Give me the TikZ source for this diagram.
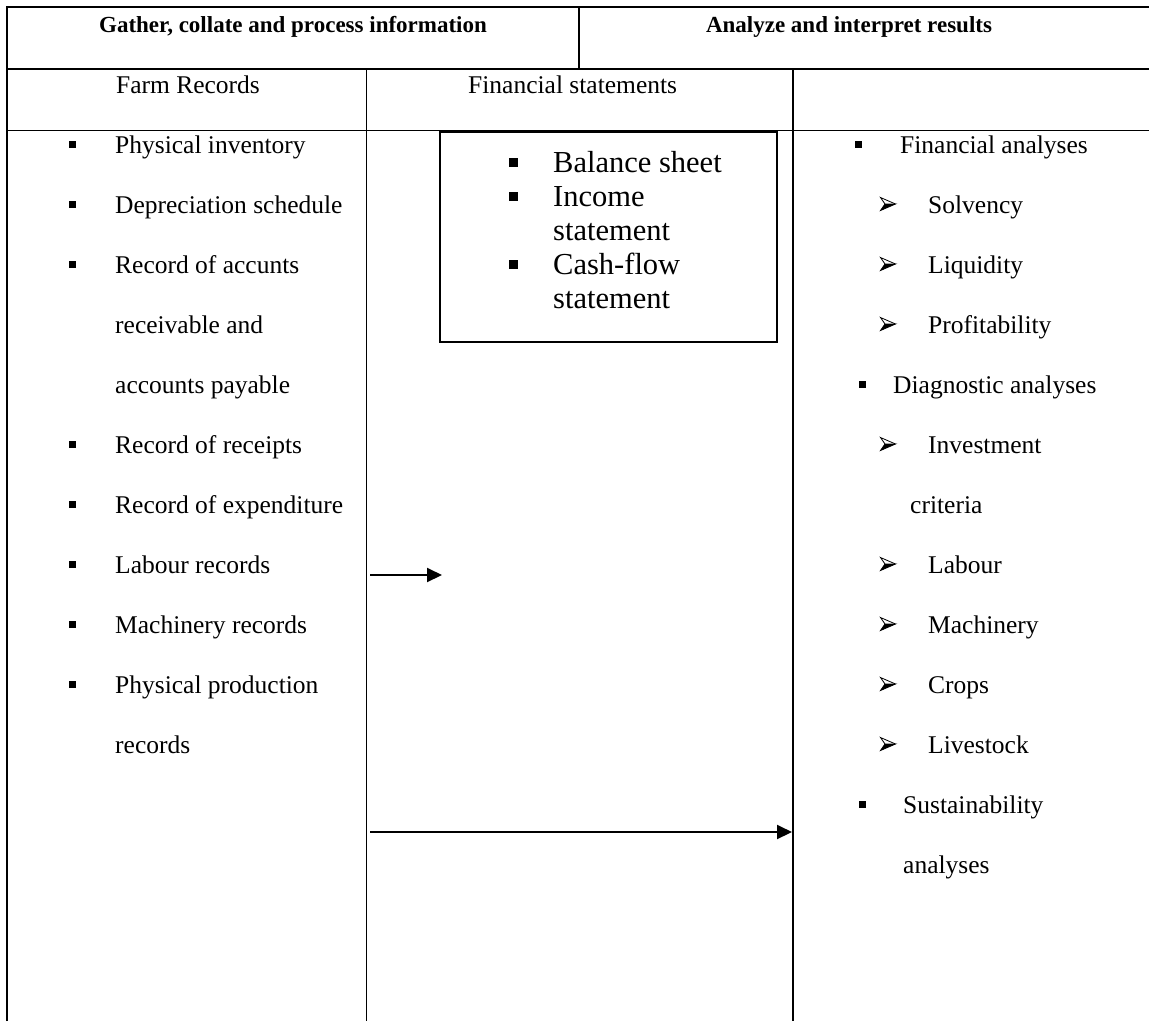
\documentclass[tikz,border=0pt]{standalone}
\usepackage{fontspec}
\setmainfont{Liberation Serif}
\usetikzlibrary{arrows.meta}
\begin{document}
\begin{tikzpicture}[x=1pt,y=-1pt,
  txt/.style={font=\fontsize{25.5}{30}\selectfont, inner sep=0pt, anchor=base west},
  hdr/.style={font=\bfseries\fontsize{23}{27}\selectfont, inner sep=0pt, anchor=base},
  big/.style={font=\fontsize{30.5}{34}\selectfont, inner sep=0pt, anchor=base west},
  sq/.style={fill=black, draw=none, minimum size=7pt, inner sep=0pt},
  bigsq/.style={fill=black, draw=none, minimum size=9pt, inner sep=0pt},
  thick rule/.style={line width=2.2pt},
  thin rule/.style={line width=1pt},
  flow/.style={line width=2pt, -{Triangle[length=15pt,width=14pt]}},
  arrowbullet/.pic={
    \filldraw[line width=0.8pt, line join=miter] (7.5,0) -- (-3,0) -- (-7.5,6.5) -- cycle;
    \draw[line width=0.8pt, line join=miter] (7.5,0) -- (-7.5,-6.5) -- (-3,0);
  }]
\useasboundingbox (0,0) rectangle (1149,1021);

% table rules
\draw[thick rule] (7,1021) -- (7,7) -- (1149,7);
\draw[thick rule] (7,69) -- (1149,69);
\draw[thin rule] (7,130) -- (1149,130);
\draw[line width=1.4pt] (579,7) -- (579,69);
\draw[thin rule] (366,69) -- (366,1021);
\draw[thick rule] (793,69) -- (793,1021);

% header row
\node[hdr] (h1) at (293,32) {Gather, collate and process information};
\node[hdr] (h2) at (849,32) {Analyze and interpret results};

% column titles
\node[txt, anchor=base] (c1) at (188,93) {Farm Records};
\node[txt] (c2) at (468,93) {Financial statements};

% farm records
\node[sq] (lb1) at (72,144) {};
\node[txt] (l1) at (115,153) {Physical inventory};
\node[sq] (lb2) at (72,204) {};
\node[txt] (l2) at (115,213) {Depreciation schedule};
\node[sq] (lb3) at (72,264) {};
\node[txt] (l3) at (115,273) {Record of accunts};
\node[txt] (l4) at (115,333) {receivable and};
\node[txt] (l5) at (115,393) {accounts payable};
\node[sq] (lb6) at (72,444) {};
\node[txt] (l6) at (115,453) {Record of receipts};
\node[sq] (lb7) at (72,504) {};
\node[txt] (l7) at (115,513) {Record of expenditure};
\node[sq] (lb8) at (72,564) {};
\node[txt] (l8) at (115,573) {Labour records};
\node[sq] (lb9) at (72,624) {};
\node[txt] (l9) at (115,633) {Machinery records};
\node[sq] (lb10) at (72,684) {};
\node[txt] (l10) at (115,693) {Physical production};
\node[txt] (l11) at (115,753) {records};

% financial statements box
\node[draw, line width=1.8pt, minimum width=337pt, minimum height=210pt, inner sep=0pt] (fs) at (608.5,237) {};
\node[bigsq] (bb1) at (513,162) {};
\node[big] (b1) at (553,172) {Balance sheet};
\node[bigsq] (bb2) at (513,196) {};
\node[big] (b2) at (553,206) {Income};
\node[big] (b3) at (553,240) {statement};
\node[bigsq] (bb4) at (513,264) {};
\node[big] (b4) at (553,274) {Cash-flow};
\node[big] (b5) at (553,308) {statement};

% analyses
\node[sq] (rb1) at (858,144) {};
\node[txt] (r1) at (900,153) {Financial analyses};
\pic at (888,204) {arrowbullet};
\node[txt] (r2) at (928,213) {Solvency};
\pic at (888,264) {arrowbullet};
\node[txt] (r3) at (928,273) {Liquidity};
\pic at (888,324) {arrowbullet};
\node[txt] (r4) at (928,333) {Profitability};
\node[sq] (rb5) at (862,384) {};
\node[txt] (r5) at (893,393) {Diagnostic analyses};
\pic at (888,444) {arrowbullet};
\node[txt] (r6) at (928,453) {Investment};
\node[txt] (r7) at (910,513) {criteria};
\pic at (888,564) {arrowbullet};
\node[txt] (r8) at (928,573) {Labour};
\pic at (888,624) {arrowbullet};
\node[txt] (r9) at (928,633) {Machinery};
\pic at (888,684) {arrowbullet};
\node[txt] (r10) at (928,693) {Crops};
\pic at (888,744) {arrowbullet};
\node[txt] (r11) at (928,753) {Livestock};
\node[sq] (rb12) at (862,804) {};
\node[txt] (r12) at (903,813) {Sustainability};
\node[txt] (r13) at (903,873) {analyses};

% flow arrows
\coordinate (s1) at (370,575);
\coordinate (e1) at (442,575);
\coordinate (s2) at (370,832);
\coordinate (e2) at (792,832);
\draw[flow] (s1) -- (e1);
\draw[flow] (s2) -- (e2);
\end{tikzpicture}
\end{document}
